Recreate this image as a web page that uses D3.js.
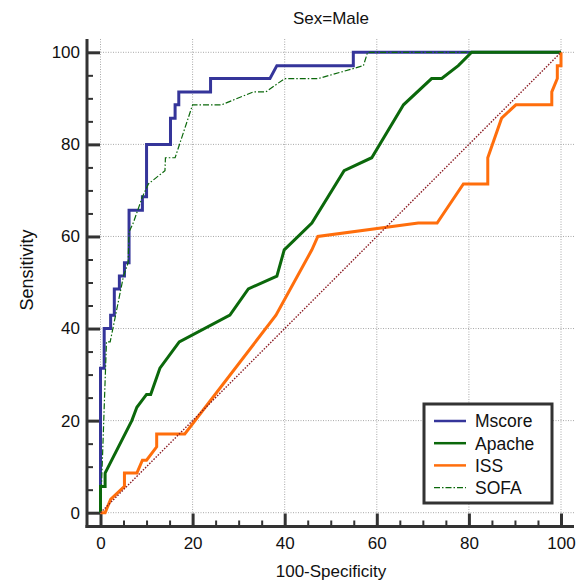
<!DOCTYPE html>
<html>
<head>
<meta charset="utf-8">
<script src="https://cdn.jsdelivr.net/npm/d3@7"></script>
<style>
  body { margin: 0; background: #fff; }
  svg { font-family: "Liberation Sans", Arial, sans-serif; }
</style>
</head>
<body>
<svg id="chart" width="579" height="583"></svg>
<script>
// ROC points [100-Specificity, Sensitivity]
var mscore = [[0,0],[0,31.4],[0.8,31.4],[0.8,40],[2.2,40],[2.2,42.9],[3,42.9],[3,48.6],[4.1,48.6],[4.1,51.4],
  [5.2,51.4],[5.2,54.3],[6.2,54.3],[6.2,65.7],[9.1,65.7],[9.1,68.6],[10,68.6],[10,80],[15.2,80],[15.2,85.7],
  [16.2,85.7],[16.2,88.6],[17,88.6],[17,91.4],[23.9,91.4],[23.9,94.3],[36.8,94.3],[38.3,97.1],[54.9,97.1],
  [54.9,100],[100,100]];
var apache = [[0,0],[0,5.7],[1,5.7],[1,8.6],[6.8,20],[7.9,22.9],[10,25.7],[10.9,25.7],[12.9,31.4],[17.1,37.1],
  [28.1,42.9],[32.1,48.6],[38.3,51.4],[39.9,57.1],[45.9,62.9],[52.9,74.3],[58.9,77.1],[65.8,88.6],[71.9,94.3],
  [74.1,94.3],[77.7,97.1],[80.6,100],[100,100]];
var iss = [[0,0],[1,0],[2.2,2.9],[5.2,5.7],[5.2,8.6],[7.9,8.6],[9.1,11.4],[10,11.4],[12.2,14.3],[12.2,17.1],
  [18.3,17.1],[38.1,42.9],[45.9,57.1],[47.2,60],[69,62.9],[73.1,62.9],[78.8,71.4],[84.1,71.4],[84.1,77.1],
  [87.1,85.7],[90.2,88.6],[98,88.6],[98,91.4],[99.2,94.3],[99.2,97.1],[100,97.1],[100,100]];
var sofa = [[0,0],[0.5,14],[1,28.6],[1.3,37.1],[2.1,37.1],[5,51.4],[6,54.3],[6.2,61],[7.1,62.9],[9.1,68.6],
  [10.4,71.4],[14,74.3],[14.1,77.1],[16.2,77.1],[20,88.6],[26.3,88.6],[33.2,91.4],[35.9,91.4],[40,94.3],
  [47.3,94.3],[57.1,97.1],[58,100],[100,100]];
var seriesNames = ["Mscore", "Apache", "ISS", "SOFA"];
var majorTicks = [0, 20, 40, 60, 80, 100];
var minorTicks = [5, 10, 15, 25, 30, 35, 45, 50, 55, 65, 70, 75, 85, 90, 95];

var colors = { Mscore: "#35359a", Apache: "#0b680b", ISS: "#ff6e0c", SOFA: "#0b680b" };

var svg = d3.select("#chart");
var x = d3.scaleLinear().domain([0, 100]).range([100.5, 561]);
var y = d3.scaleLinear().domain([0, 100]).range([512.7, 52.3]);
var axisX = 87, axisY = 526.5, plotTop = 39, plotRight = 574;

// grid
var grid = svg.append("g").attr("stroke", "#a8a8a8").attr("stroke-width", 1).attr("stroke-dasharray", "1,1.5");
grid.selectAll(".gx").data(majorTicks).enter().append("line")
  .attr("x1", function(d){ return x(d); }).attr("x2", function(d){ return x(d); })
  .attr("y1", plotTop).attr("y2", y(0));
grid.selectAll(".gy").data(majorTicks).enter().append("line")
  .attr("y1", function(d){ return y(d); }).attr("y2", function(d){ return y(d); })
  .attr("x1", x(0)).attr("x2", plotRight);

// axes
var axisColor = "#333";
var yMajor = svg.append("g").attr("transform", "translate(" + axisX + ",0)")
  .call(d3.axisRight(y).tickValues(majorTicks).tickSize(13).tickFormat(""));
var yMinor = svg.append("g").attr("transform", "translate(" + axisX + ",0)")
  .call(d3.axisRight(y).tickValues(minorTicks).tickSize(6).tickFormat(""));
var yLab = svg.append("g").attr("transform", "translate(" + axisX + ",0)")
  .call(d3.axisLeft(y).tickValues(majorTicks).tickSize(0).tickPadding(7));
var xMajor = svg.append("g").attr("transform", "translate(0," + axisY + ")")
  .call(d3.axisTop(x).tickValues(majorTicks).tickSize(13).tickFormat(""));
var xMinor = svg.append("g").attr("transform", "translate(0," + axisY + ")")
  .call(d3.axisTop(x).tickValues(minorTicks).tickSize(6).tickFormat(""));
var xLab = svg.append("g").attr("transform", "translate(0," + axisY + ")")
  .call(d3.axisBottom(x).tickValues(majorTicks).tickSize(0).tickPadding(10));

[yMajor, yMinor, yLab, xMajor, xMinor, xLab].forEach(function(g){ g.select(".domain").remove(); });
[yMajor, xMajor].forEach(function(g){ g.selectAll("line").attr("stroke", axisColor).attr("stroke-width", 3); });
[yMinor, xMinor].forEach(function(g){ g.selectAll("line").attr("stroke", axisColor).attr("stroke-width", 2); });
[yLab, xLab].forEach(function(g){
  g.selectAll("text").attr("fill", "#111").style("font-size", "17px").style("font-family", "Liberation Sans, Arial, sans-serif");
});

svg.append("line").attr("x1", axisX).attr("x2", axisX).attr("y1", plotTop).attr("y2", axisY + 1.5)
  .attr("stroke", axisColor).attr("stroke-width", 3);
svg.append("line").attr("x1", axisX - 1.5).attr("x2", plotRight).attr("y1", axisY).attr("y2", axisY)
  .attr("stroke", axisColor).attr("stroke-width", 3);

// curves
var line = d3.line().x(function(d){ return x(d[0]); }).y(function(d){ return y(d[1]); });
svg.append("path").datum(mscore).attr("d", line).attr("fill", "none")
  .attr("stroke", colors.Mscore).attr("stroke-width", 3);
svg.append("path").datum(apache).attr("d", line).attr("fill", "none")
  .attr("stroke", colors.Apache).attr("stroke-width", 3);
svg.append("path").datum(iss).attr("d", line).attr("fill", "none")
  .attr("stroke", colors.ISS).attr("stroke-width", 3);
svg.append("path").datum(sofa).attr("d", line).attr("fill", "none")
  .attr("stroke", colors.SOFA).attr("stroke-width", 1.2).attr("stroke-dasharray", "6,2,1.5,2");

// reference diagonal
svg.append("path").datum([[0, 0], [100, 100]]).attr("d", line).attr("fill", "none")
  .attr("stroke", "#8b1c24").attr("stroke-width", 1.4).attr("stroke-dasharray", "1.5,1.5");

// titles
svg.append("text").attr("x", 331).attr("y", 24).attr("text-anchor", "middle")
  .style("font-size", "17px").attr("fill", "#111").text("Sex=Male");
svg.append("text").attr("x", 331).attr("y", 577).attr("text-anchor", "middle")
  .style("font-size", "17px").attr("fill", "#111").text("100-Specificity");
svg.append("text").attr("transform", "translate(33,270) rotate(-90)").attr("text-anchor", "middle")
  .style("font-size", "18px").attr("fill", "#111").text("Sensitivity");

// legend
var legend = svg.append("g");
legend.append("rect").attr("x", 424).attr("y", 404).attr("width", 128).attr("height", 99)
  .attr("fill", "#fff").attr("stroke", axisColor).attr("stroke-width", 3);
var rows = legend.selectAll(".row").data(seriesNames).enter().append("g")
  .attr("transform", function(d, i){ return "translate(434," + (421 + i * 22.2) + ")"; });
rows.append("line").attr("x1", 0).attr("x2", 32)
  .attr("stroke", function(d){ return colors[d]; })
  .attr("stroke-width", function(d){ return d === "SOFA" ? 1.2 : 2.5; })
  .attr("stroke-dasharray", function(d){ return d === "SOFA" ? "6,2,1.5,2" : null; });
rows.append("text").attr("x", 41).attr("dy", "0.36em")
  .style("font-size", "17.5px").attr("fill", "#111").text(function(d){ return d; });
</script>
</body>
</html>
